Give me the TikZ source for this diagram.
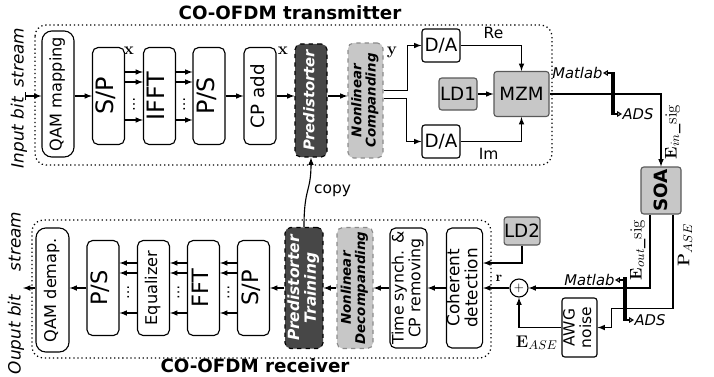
\documentclass[tikz,border=0pt]{standalone}
\usepackage[no-math]{fontspec}
\setmainfont{DejaVu Sans}
\usepackage{amsmath}
\usepackage{graphicx}
\usetikzlibrary{arrows, arrows.meta, calc, positioning}
\renewcommand{\arraystretch}{0.9}
\newcommand{\vtext}[1]{\rotatebox{90}{\begin{tabular}{@{}c@{}}#1\end{tabular}}}
\newcommand{\fs}[1]{\fontsize{#1}{1.15\dimexpr#1pt\relax}\selectfont}
\tikzset{
  blk/.style={draw, rounded corners=4pt, inner sep=0pt, align=center},
  tbox/.style={blk, minimum width=0.8cm, minimum height=2.425cm, font={\fs{17}}},
  rbox/.style={blk, minimum width=0.8cm, minimum height=2.375cm, font={\fs{16}}},
  pdbox/.style={blk, dashed, fill=black!72, text=white},
  nlbox/.style={blk, dashed, draw=black!45, fill=black!22, font={\fs{9.5}\bfseries\itshape}},
  hwbox/.style={draw=black!65, fill=black!22, rounded corners=2pt, inner sep=0pt, font={\fs{13}}},
  dabox/.style={draw, rounded corners=2pt, inner sep=0pt, font={\fs{13}}},
  arr/.style={-latex},
  swarr/.style={-{Triangle[open, length=3.5pt, width=4pt]}},
  frame/.style={dotted, line width=0.9pt, rounded corners=8pt},
  title/.style={font={\fs{13}\bfseries}}
}
\begin{document}
\begin{tikzpicture}[x=0.025cm, y=-0.025cm, line width=0.8pt]
\useasboundingbox (0,0) rectangle (714,376);

% transmitter
\node[title] (txtitle) at (290,13) {CO-OFDM transmitter};
\draw[frame] (35,25) rectangle (552,165);
\node (inlabel) at (19,98) {\rotatebox{90}{\fs{12}\itshape Input bit\hspace{0.6em}stream}};
\coordinate (inbit) at (25,96);
\node[blk, rounded corners=7pt, minimum width=0.8cm, minimum height=3.15cm, font={\fs{11.5}}] (qam) at (58,94) {\vtext{QAM mapping}};
\node[tbox] (sp) at (108.5,96) {\vtext{S/P}};
\node[tbox] (ifft) at (159.5,96) {\vtext{IFFT}};
\node[tbox] (ps) at (209,96) {\vtext{P/S}};
\node[tbox, font={\fs{13}}] (cpadd) at (260,96) {\vtext{CP add}};
\node[pdbox, minimum width=0.8cm, minimum height=2.825cm, font={\fs{10.5}\bfseries\itshape}] (pd) at (311,100.5) {\vtext{Predistorter}};
\node[nlbox, minimum width=0.875cm, minimum height=2.875cm] (nlc) at (365.5,100.5) {\vtext{Nonlinear\\Companding}};
\node[dabox, minimum width=0.95cm, minimum height=0.825cm] (daup) at (441,45.5) {D/A};
\node[dabox, minimum width=0.95cm, minimum height=0.825cm] (dalo) at (441,141.5) {D/A};
\node[hwbox, minimum width=0.95cm, minimum height=0.8cm] (ld1) at (458,94) {LD1};
\node[hwbox, minimum width=1.375cm, minimum height=1.125cm] (mzm) at (521.5,94) {MZM};
\node (xlab1) at (129,51) {\fs{13}$\mathbf{x}$};
\node (xlab2) at (283,51) {\fs{13}$\mathbf{x}$};
\node (ylab) at (392,52) {\fs{13}$\mathbf{y}$};

\draw[|-latex] (inbit) -- (inbit -| qam.west);
\draw[arr] (qam.east |- sp.west) -- (sp.west);
\foreach \a/\b in {sp/ifft, ifft/ps} {
  \foreach \dy in {-24,-14,24}
    \draw[arr] ($(\a.east)+(0,\dy)$) -- ($(\b.west)+(0,\dy)$);
  \node at ($(\a.east)!0.5!(\b.west)+(0,8)$) {\rotatebox{90}{\fs{10}\ldots}};
}
\draw[arr] (ps) -- (cpadd);
\draw[arr] (cpadd.east) -- (cpadd.east -| pd.west);
\draw[arr] (pd.east |- cpadd) -- (nlc.west |- cpadd);
\draw[arr] ($(nlc.east)+(0,-10)$) -| ($(daup.west)+(-14,0)$) -- (daup.west);
\draw[arr] ($(nlc.east)+(0,-2)$) -| ($(dalo.west)+(-15,0)$) -- (dalo.west);
\draw[arr] (daup.east) -| node[pos=0.27, above=1pt, font={\fs{11}}] {Re} (mzm.north);
\draw[arr] (dalo.east) -| node[pos=0.23, below=1pt, font={\fs{11}}] {Im} (mzm.south);
\draw[arr] (ld1) -- (mzm);

% channel: SOA and switches
\node[hwbox, minimum width=1.0cm, minimum height=1.175cm, font={\fs{13}\bfseries}] (soa) at (661,190.5) {\rotatebox{90}{SOA}};
\draw[arr] (mzm.east) -| (soa.north);
\coordinate (sw1t) at (613,72);
\coordinate (sw1b) at (613,115);
\draw[line width=3pt] (sw1t) -- (sw1b);
\node[left, inner sep=0pt, font={\fs{10.5}\itshape}] (mat1) at (603,73) {Matlab};
\node[right, inner sep=0pt, font={\fs{10.5}\itshape}] (ads1) at (622,114) {ADS};
\draw[swarr] (sw1t |- mat1.east) -- (mat1.east);
\draw[swarr] (sw1b |- ads1.west) -- (ads1.west);
\node (ein) at (673,132) {\rotatebox{90}{\fs{13}$\mathbf{E}_{in}\_\mathrm{sig}$}};

% receiver
\node[title] (rxtitle) at (255,366) {CO-OFDM receiver};
\draw[frame] (32,220) rectangle (491,358);
\node (outlabel) at (16,293) {\rotatebox{90}{\fs{12}\itshape Ouput bit\hspace{1.4em}stream}};
\coordinate (outbit) at (23,288);
\node[blk, rounded corners=7pt, minimum width=0.825cm, minimum height=3.1cm, font={\fs{11.5}}] (qamd) at (52.5,290) {\vtext{QAM demap.}};
\node[rbox] (rps) at (103,288) {\vtext{P/S}};
\node[rbox, font={\fs{11.5}}] (eq) at (153.5,288) {\vtext{Equalizer}};
\node[rbox] (fft) at (203.5,288) {\vtext{FFT}};
\node[rbox] (rsp) at (253.5,288) {\vtext{S/P}};
\node[pdbox, minimum width=0.95cm, minimum height=3.025cm, font={\fs{11}\bfseries\itshape}] (pdt) at (304,288) {\vtext{Predistorter\\Training}};
\node[nlbox, minimum width=0.9cm, minimum height=3.025cm] (nld) at (355,288) {\vtext{Nonlinear\\Decompanding}};
\node[blk, minimum width=0.925cm, minimum height=3.0cm, font={\fs{11.2}}] (tsync) at (408.5,288) {\vtext{Time synch. \&\\CP removing}};
\node[blk, minimum width=0.875cm, minimum height=3.0cm, font={\fs{12}}] (cohdet) at (464.5,288) {\vtext{Coherent\\detection}};
\node[hwbox, minimum width=0.85cm, minimum height=0.7cm] (ld2) at (522,231) {LD2};
\node[draw, circle, minimum size=0.45cm, inner sep=0pt, font={\fs{9}}] (sum) at (519,288) {$+$};
\node[blk, rounded corners=2pt, minimum width=0.875cm, minimum height=1.475cm, font={\fs{11}}] (awg) at (579.5,327.5) {\vtext{AWG\\noise}};

\coordinate (sw2t) at (625,277);
\coordinate (sw2b) at (625,321);
\draw[arr] ($(soa.south)+(-11,0)$) |- (sum.east);
\draw[arr] ($(soa.south)+(12,0)$) -- ++(0,94) -| ($(awg.east)+(14,0)$) -- (awg.east);
\draw[line width=3pt] (sw2t) -- (sw2b);
\node[left, inner sep=0pt, font={\fs{10.5}\itshape}] (mat2) at (615,280) {Matlab};
\node[right, inner sep=0pt, font={\fs{10.5}\itshape}] (ads2) at (634,320) {ADS};
\draw[swarr] (sw2t |- mat2.east) -- (mat2.east);
\draw[swarr] (sw2b |- ads2.west) -- (ads2.west);
\node (eout) at (638,250) {\rotatebox{90}{\fs{13}$\mathbf{E}_{out}\_\mathrm{sig}$}};
\node (pase) at (685,245) {\rotatebox{90}{\fs{13}$\mathbf{P}_{ASE}$}};

\draw[arr] (awg.west) -| node[pos=0.29, below=2pt] {\fs{13}$\mathbf{E}_{ASE}$} (sum.south);
\draw[arr] (sum) -- node[pos=0.4, above=1pt] {\fs{10}$\mathbf{r}$} (cohdet);
\draw[arr] (ld2.south) |- ($(cohdet.east)+(0,-25)$);
\draw[arr] (cohdet) -- (tsync);
\draw[arr] (tsync) -- (nld);
\draw[arr] (nld) -- (pdt);
\draw[arr] (pdt) -- (rsp);
\foreach \a/\b in {rsp/fft, fft/eq, eq/rps} {
  \foreach \dy in {-25,-15,25}
    \draw[arr] ($(\a.west)+(0,\dy)$) -- ($(\b.east)+(0,\dy)$);
  \node at ($(\a.west)!0.5!(\b.east)+(0,4)$) {\rotatebox{90}{\fs{10}\ldots}};
}
\draw[arr] (rps.west) -- (rps.west -| qamd.east);
\draw[arr] (qamd.west |- rps) -- (outbit);

% copy of the trained predistorter
\draw[arr] (pdt.north) .. controls +(0,-40) and +(0,35) .. node[pos=0.5, right=1pt, font={\fs{11}}] {copy} (pd.south);
\end{tikzpicture}
\end{document}
